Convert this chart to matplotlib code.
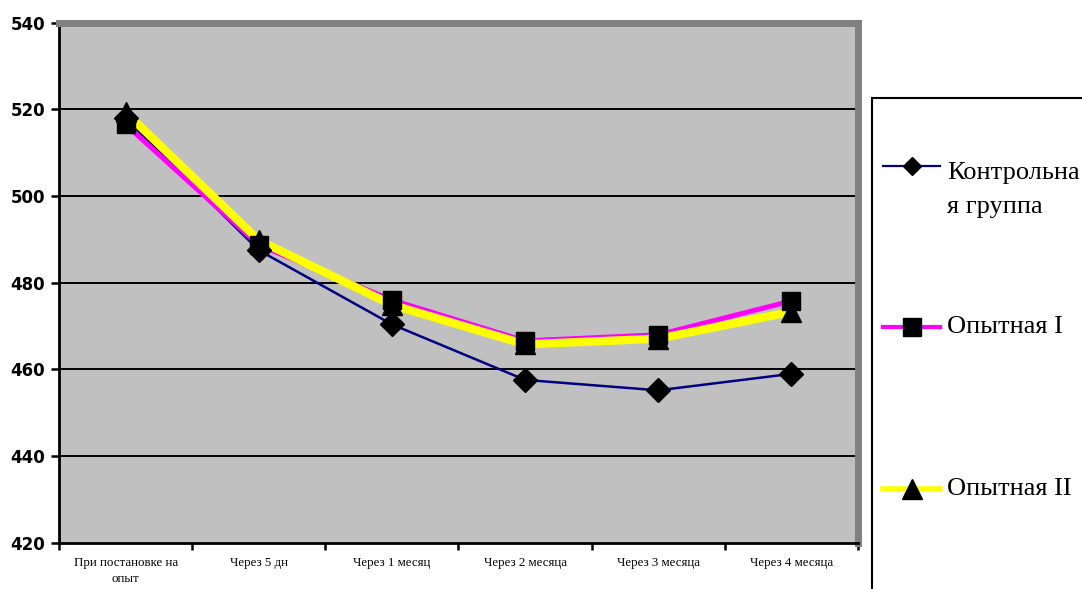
import numpy as np
import matplotlib.pyplot as plt
from matplotlib.lines import Line2D
from matplotlib.patches import Rectangle

# categories and series values
categories = ['При постановке на\nопыт', 'Через 5 дн', 'Через 1 месяц',
              'Через 2 месяца', 'Через 3 месяца', 'Через 4 месяца']
control = [517.9, 487.5, 470.4, 457.6, 455.2, 459.0]
exp1 = [516.5, 488.7, 476.0, 466.6, 468.0, 475.8]
exp2 = [519.3, 489.8, 474.9, 465.8, 467.1, 473.3]
series_names = ['Контрольна\nя группа', 'Опытная I', 'Опытная II']
y_ticks = [420, 440, 460, 480, 500, 520, 540]

W, H = 1082, 589
fig = plt.figure(figsize=(W / 100, H / 100), dpi=100)

def fx(px):
    return px / W

def fy(py):
    return 1 - py / H

ax = fig.add_axes([fx(59), fy(543), fx(858) - fx(59), fy(22.5) - fy(543)])
ax.set_facecolor('#C0C0C0')

x = np.arange(len(categories))

# lines first, then markers on top
ax.plot(x, control, color='#000080', lw=1.8, zorder=3)
ax.plot(x, exp1, color='#FF00FF', lw=3.6, zorder=3)
ax.plot(x, exp2, color='#FFFF00', lw=6, zorder=3)
ax.plot(x, control, ls='none', marker='D', ms=12.5, color='black', zorder=4)
ax.plot(x, exp2, ls='none', marker='^', ms=14.5, color='black', zorder=4)
ax.plot(x, exp1, ls='none', marker='s', ms=13, color='black', zorder=4)

ax.set_xlim(-0.5, len(categories) - 0.5)
ax.set_ylim(420, 540)

# y axis
ax.set_yticks(y_ticks)
ax.set_yticklabels([str(v) for v in y_ticks], fontfamily='DejaVu Sans',
                   fontweight='heavy', fontsize=12)
ax.tick_params(axis='y', direction='out', length=6, width=1.8, pad=4)
for v in y_ticks[1:-1]:
    ax.axhline(v, color='black', lw=1.4, zorder=1)

# x axis: ticks between categories, labels at centres
ax.set_xticks(np.arange(len(categories) + 1) - 0.5)
ax.set_xticklabels([])
ax.tick_params(axis='x', which='major', direction='out', length=5, width=1.8)
ax.set_xticks(x, minor=True)
ax.set_xticklabels(categories, minor=True, fontfamily='Liberation Serif',
                   fontsize=9.3, linespacing=1.45)
ax.tick_params(axis='x', which='minor', length=0, pad=10)

for side in ['top', 'right']:
    ax.spines[side].set_color('#808080')
    ax.spines[side].set_linewidth(5)
for side in ['left', 'bottom']:
    ax.spines[side].set_color('black')
    ax.spines[side].set_linewidth(2)

# legend box (cut off by the figure edge, like the original)
fig.add_artist(Rectangle((fx(872), -0.1), 0.3, fy(98) + 0.1,
                         transform=fig.transFigure, fill=False,
                         edgecolor='black', lw=1.5, clip_on=False))

legend_rows = [
    ('#000080', 1.6, 'D', 9, 166, 190),
    ('#FF00FF', 3.0, 's', 13, 327, 327),
    ('#FFFF00', 4.0, '^', 14.5, 489, 489),
]
for (col, lw, mk, ms, ly, ty), name in zip(legend_rows, series_names):
    fig.add_artist(Line2D([fx(883), fx(940)], [fy(ly), fy(ly)],
                          transform=fig.transFigure, color=col, lw=lw))
    fig.add_artist(Line2D([fx(911.5)], [fy(ly)], transform=fig.transFigure,
                          ls='none', marker=mk, ms=ms, color='black'))
    fig.text(fx(947), fy(ty), name, fontfamily='Liberation Serif',
             fontsize=19, va='center', ha='left', linespacing=1.65)

fig.savefig('out.png', dpi=100)
